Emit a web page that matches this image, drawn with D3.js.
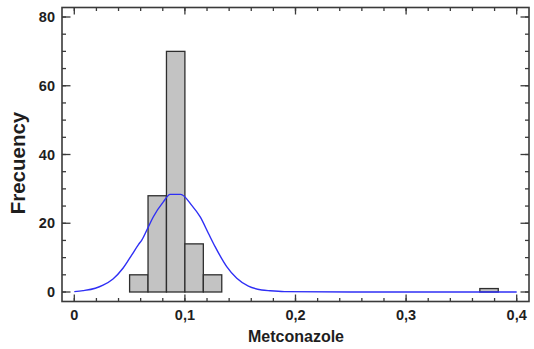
<!DOCTYPE html>
<html>
<head>
<meta charset="utf-8">
<script src="https://cdn.jsdelivr.net/npm/d3@7"></script>
<style>
  html, body { margin: 0; padding: 0; background: #fff; }
  svg { display: block; }
  text { font-family: "Liberation Sans", Arial, Helvetica, sans-serif; font-weight: bold; fill: #1e1e1e; }
</style>
</head>
<body>
<svg id="chart" width="534" height="349"></svg>
<script>
// Histogram classes (lower / upper limits) and their frequencies
const binLo  = [0.05, 0.066667, 0.083333, 0.1, 0.116667, 0.366667];
const binHi  = [0.066667, 0.083333, 0.1, 0.116667, 0.133333, 0.383333];
const counts = [5, 28, 70, 14, 5, 1];

// Fitted normal density, scaled to frequency
const curveX = [0, 0.008, 0.019, 0.026, 0.035, 0.044, 0.052, 0.058, 0.061, 0.067, 0.0715, 0.0805,
                0.0866, 0.0962, 0.1062, 0.1137, 0.1212, 0.1273, 0.1378, 0.1469, 0.1574, 0.1695,
                0.177, 0.19, 0.25, 0.3, 0.35, 0.4];
const curveY = [0.1, 0.4, 1.1, 2.0, 3.8, 6.9, 10.8, 13.8, 15.1, 19.0, 21.9, 26.2,
                28.4, 28.4, 25.2, 21.9, 17.1, 13.2, 7.4, 4.0, 1.7, 0.6,
                0.35, 0.1, 0, 0, 0, 0];

// Axis ticks
const xMajor = [0, 0.1, 0.2, 0.3, 0.4];
const xTickLabels = ["0", "0,1", "0,2", "0,3", "0,4"];
const xMinor = d3.range(0, 21).map(i => i * 0.02);
const yMajor = [0, 20, 40, 60, 80];
const yTickLabels = ["0", "20", "40", "60", "80"];
const yMinor = d3.range(0, 17).map(i => i * 5);

const xTitle = "Metconazole";
const yTitle = "Frecuency";

const frame = { left: 62, right: 529, top: 7.5, bottom: 301.5 };

const x = d3.scaleLinear().domain([0, 0.4]).range([74.3, 516.7]);
const y = d3.scaleLinear().domain([0, 80]).range([292, 17]);

const svg = d3.select("#chart");

// bars
svg.append("g").selectAll("rect")
  .data(counts)
  .join("rect")
  .attr("x", (d, i) => x(binLo[i]))
  .attr("width", (d, i) => x(binHi[i]) - x(binLo[i]))
  .attr("y", d => y(d))
  .attr("height", d => y(0) - y(d))
  .attr("fill", "#c3c3c3")
  .attr("stroke", "#2e2e2e")
  .attr("stroke-width", 1.3);

// fitted curve
const line = d3.line()
  .x(d => x(d[0]))
  .y(d => y(d[1]))
  .curve(d3.curveMonotoneX);
svg.append("path")
  .datum(curveX.map((v, i) => [v, curveY[i]]))
  .attr("d", line)
  .attr("fill", "none")
  .attr("stroke", "#2f2ff5")
  .attr("stroke-width", 1.4);

// frame
svg.append("rect")
  .attr("x", frame.left)
  .attr("y", frame.top)
  .attr("width", frame.right - frame.left)
  .attr("height", frame.bottom - frame.top)
  .attr("fill", "none")
  .attr("stroke", "#3a3a3a")
  .attr("stroke-width", 1.6);

// inward ticks on all four sides
const ticks = svg.append("g").attr("stroke", "#3a3a3a").attr("stroke-width", 1.3);
function xTicks(vals, len) {
  vals.forEach(v => {
    ticks.append("line").attr("x1", x(v)).attr("x2", x(v))
      .attr("y1", frame.bottom).attr("y2", frame.bottom - len);
    ticks.append("line").attr("x1", x(v)).attr("x2", x(v))
      .attr("y1", frame.top).attr("y2", frame.top + len);
  });
}
function yTicks(vals, len) {
  vals.forEach(v => {
    ticks.append("line").attr("y1", y(v)).attr("y2", y(v))
      .attr("x1", frame.left).attr("x2", frame.left + len);
    ticks.append("line").attr("y1", y(v)).attr("y2", y(v))
      .attr("x1", frame.right).attr("x2", frame.right - len);
  });
}
xTicks(xMinor, 3.5);
xTicks(xMajor, 7);
yTicks(yMinor, 4);
yTicks(yMajor, 8.5);

// tick labels
svg.append("g").selectAll("text")
  .data(xMajor)
  .join("text")
  .attr("x", d => x(d))
  .attr("y", 320)
  .attr("text-anchor", "middle")
  .attr("font-size", 14.5)
  .text((d, i) => xTickLabels[i]);

svg.append("g").selectAll("text")
  .data(yMajor)
  .join("text")
  .attr("x", 55)
  .attr("y", d => y(d))
  .attr("dy", "0.36em")
  .attr("text-anchor", "end")
  .attr("font-size", 14.5)
  .text((d, i) => yTickLabels[i]);

// axis titles
svg.append("text")
  .attr("x", 296)
  .attr("y", 342)
  .attr("text-anchor", "middle")
  .attr("font-size", 16)
  .text(xTitle);

svg.append("text")
  .attr("transform", "translate(25,163) rotate(-90)")
  .attr("text-anchor", "middle")
  .attr("font-size", 20.5)
  .text(yTitle);
</script>
</body>
</html>
